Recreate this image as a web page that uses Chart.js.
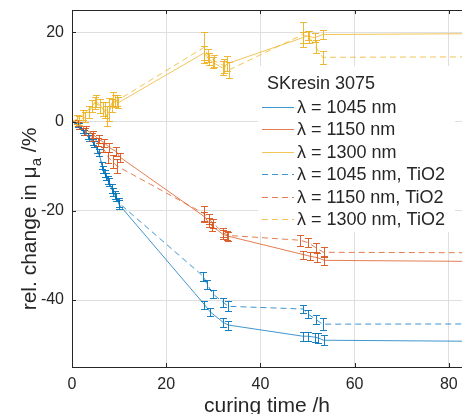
<!DOCTYPE html>
<html>
<head>
<meta charset="utf-8">
<script src="https://cdn.jsdelivr.net/npm/chart.js@4.4.0/dist/chart.umd.min.js"></script>
<style>
html, body { margin: 0; padding: 0; background: #fff; }
#wrap { width: 462px; height: 414px; }
</style>
</head>
<body>
<div id="wrap"><canvas id="chart" width="462" height="414"></canvas></div>
<script>
// Podaci: vreme (h), relativna promena (%), greske (+/-)
let t1045 = [0, 1.5, 2.6, 3.6, 4.7, 5.7, 6.6, 7.2, 7.9, 8.7, 9.4, 10, 28.1, 29.4, 32.1, 33.2, 49, 50, 51.5, 52.3, 53.4, 120];
let v1045 = [0, -1, -2.5, -3.6, -5.1, -7, -10.7, -12.3, -13.6, -15.7, -17, -18.6, -41, -42.7, -45, -45.6, -48.1, -48.1, -48.3, -48.5, -49, -49.5];
let e1045 = [0, 0.6, 0.6, 0.7, 0.7, 0.8, 0.8, 0.8, 0.9, 0.9, 0.9, 1.0, 0.9, 0.9, 1.0, 1.0, 1.0, 1.0, 1.0, 1.1, 1.1, 0];

let t1045T = [0, 1.2, 2.3, 3.3, 4.4, 5.4, 6.4, 7, 7.6, 8.4, 9.2, 9.9, 27.9, 28.7, 30, 32.1, 33.2, 49, 50.2, 51.7, 53.2, 120];
let v1045T = [0, -0.6, -2, -3.2, -4.6, -6.3, -9.8, -11.6, -13, -15, -16.5, -18.2, -34.7, -36.5, -38.7, -40.5, -41.4, -42, -43.2, -44.3, -45.4, -45.3];
let e1045T = [0, 0.6, 0.6, 0.7, 0.7, 0.8, 0.8, 0.8, 0.9, 0.9, 0.9, 1.0, 1.0, 1.1, 0.9, 1.0, 1.1, 0.9, 0.9, 1.0, 1.3, 0];

let t1150 = [0, 1.3, 3, 4.5, 5.7, 6.8, 7.9, 9.4, 10.2, 28.1, 29, 29.8, 32.1, 33.2, 49.1, 50.6, 52.1, 53.6, 120];
let v1150 = [0, -0.3, -1.8, -2.9, -4, -4.7, -5.8, -6.7, -8, -21.3, -22.6, -23.5, -25.3, -25.7, -29.8, -30.2, -30.5, -31.1, -31.6];
let e1150 = [0, 0.7, 0.8, 0.8, 0.9, 0.9, 1.0, 1.0, 1.0, 1.1, 1.0, 1.0, 1.0, 1.0, 0.9, 0.9, 1.0, 1.0, 0];

let t1150T = [0, 1.5, 2.8, 4.2, 5.5, 6.6, 7.7, 8.6, 9.6, 28, 29, 30, 32, 33, 48.5, 50, 51.7, 53.4, 120];
let v1150T = [0, -0.8, -2.2, -3.5, -4.6, -5.9, -8, -9, -10, -20.6, -21.8, -22.8, -24.8, -25.5, -26.6, -27.1, -28.2, -29.3, -29.5];
let e1150T = [0, 0.8, 0.8, 0.9, 0.9, 1.0, 1.2, 1.4, 1.5, 1.6, 1.1, 1.0, 1.0, 1.0, 1.2, 1.0, 1.0, 1.1, 0];

let t1300 = [0, 1, 2.3, 4.3, 5.1, 6.6, 7.4, 8.5, 9.1, 9.8, 28.1, 29, 30, 32, 33, 49, 50, 51.5, 53.2, 120];
let v1300 = [0, 0.5, 1.5, 3.5, 4.6, 2.8, 1.2, 3.6, 4.6, 4.2, 15.4, 14, 13.2, 12, 13, 18.8, 19.2, 18.8, 19.5, 19.9];
let e1300 = [0, 1.0, 1.2, 1.4, 1.3, 1.6, 2.2, 1.5, 1.4, 1.2, 1.6, 1.3, 1.2, 1.5, 1.6, 1.2, 1.0, 1.0, 1.0, 0];

let t1300T = [0, 1.4, 2.8, 3.6, 4.8, 6, 7, 7.9, 8.8, 9.6, 28, 28.9, 30.2, 32.3, 33.4, 49, 50.4, 51.7, 53.2, 120];
let v1300T = [0, 0.3, 1, 2.2, 4.2, 3.5, 2.5, 2.7, 5, 4.7, 16.6, 14.8, 13.6, 12.5, 11.6, 19.5, 18.9, 16.8, 14.4, 14.6];
let e1300T = [0, 1.0, 1.1, 1.3, 1.4, 1.5, 1.8, 2.5, 1.6, 1.3, 3.5, 1.5, 1.4, 1.6, 1.8, 2.7, 1.3, 1.4, 1.5, 0];

let naziviSerija = ["λ = 1045 nm", "λ = 1150 nm", "λ = 1300 nm",
    "λ = 1045 nm, TiO2", "λ = 1150 nm, TiO2", "λ = 1300 nm, TiO2"];
let xTicks = [0, 20, 40, 60, 80];
let yTicks = [-40, -20, 0, 20];

let plava = "0,114,189";
let narandzasta = "217,83,25";
let zuta = "237,177,32";

function tacke(t, v) {
    let niz = [];
    for (let i = 0; i < t.length; i++) {
        niz.push({ x: t[i], y: v[i] });
    }
    return niz;
}

function serija(ime, t, v, e, boja, isprekidana) {
    return {
        label: ime,
        data: tacke(t, v),
        greske: e,
        bojaGreske: "rgba(" + boja + ",0.9)",
        borderColor: "rgba(" + boja + ",0.75)",
        borderWidth: 1,
        borderDash: isprekidana ? [6, 4] : [],
        pointRadius: 0,
        fill: false,
        tension: 0
    };
}

let tekst = "#262626";

// Error barovi
let errorBars = {
    id: "errorBars",
    afterDatasetsDraw(chart) {
        let ctx = chart.ctx;
        let a = chart.chartArea;
        let xs = chart.scales.x, ys = chart.scales.y;
        ctx.save();
        ctx.beginPath();
        ctx.rect(a.left, a.top, a.right - a.left, a.bottom - a.top);
        ctx.clip();
        chart.data.datasets.forEach(function (ds) {
            ctx.strokeStyle = ds.bojaGreske;
            ctx.lineWidth = 1;
            ds.data.forEach(function (p, i) {
                let e = ds.greske[i];
                if (!e) return;
                let px = Math.round(xs.getPixelForValue(p.x)) + 0.5;
                let y1 = Math.round(ys.getPixelForValue(p.y + e)) + 0.5;
                let y2 = Math.round(ys.getPixelForValue(p.y - e)) + 0.5;
                ctx.beginPath();
                ctx.moveTo(px, y1); ctx.lineTo(px, y2);
                ctx.moveTo(px - 3.5, y1); ctx.lineTo(px + 3.5, y1);
                ctx.moveTo(px - 3.5, y2); ctx.lineTo(px + 3.5, y2);
                ctx.stroke();
            });
        });
        ctx.restore();
    }
};

// Okvir, unutrasnji tickovi, naslovi osa i legenda
let ukrasi = {
    id: "ukrasi",
    afterDraw(chart) {
        let ctx = chart.ctx;
        let a = chart.chartArea;
        let xs = chart.scales.x, ys = chart.scales.y;
        ctx.save();

        // Legenda
        ctx.fillStyle = "#fff";
        ctx.fillRect(258, 66, 197, 166);
        ctx.fillStyle = tekst;
        ctx.font = "18px 'Liberation Sans', Arial, sans-serif";
        ctx.textBaseline = "middle";
        ctx.textAlign = "left";
        ctx.fillText("SKresin 3075", 267, 84);
        let ds = chart.data.datasets;
        for (let i = 0; i < ds.length; i++) {
            let y = Math.round(107 + i * 22.4) + 0.5;
            ctx.strokeStyle = ds[i].borderColor;
            ctx.lineWidth = 1;
            ctx.setLineDash(ds[i].borderDash);
            ctx.beginPath();
            ctx.moveTo(262, y);
            ctx.lineTo(294, y);
            ctx.stroke();
            ctx.setLineDash([]);
            ctx.fillStyle = tekst;
            ctx.fillText(ds[i].label, 297, y + 1);
        }

        // Okvir
        ctx.strokeStyle = tekst;
        ctx.lineWidth = 1;
        ctx.beginPath();
        ctx.moveTo(a.left + 0.5, a.bottom + 0.5);
        ctx.lineTo(a.left + 0.5, a.top + 0.5);
        ctx.lineTo(a.right, a.top + 0.5);
        ctx.moveTo(a.left, a.bottom + 0.5);
        ctx.lineTo(a.right, a.bottom + 0.5);
        xTicks.forEach(function (v) {
            let px = Math.round(xs.getPixelForValue(v)) + 0.5;
            ctx.moveTo(px, a.bottom); ctx.lineTo(px, a.bottom - 4);
            ctx.moveTo(px, a.top); ctx.lineTo(px, a.top + 4);
        });
        yTicks.forEach(function (v) {
            let py = Math.round(ys.getPixelForValue(v)) + 0.5;
            ctx.moveTo(a.left, py); ctx.lineTo(a.left + 4, py);
        });
        ctx.stroke();

        // Naslov x ose
        ctx.fillStyle = tekst;
        ctx.font = "21px 'Liberation Sans', Arial, sans-serif";
        ctx.textAlign = "center";
        ctx.textBaseline = "alphabetic";
        ctx.fillText("curing time /h", (a.left + a.right) / 2, 412);

        // Naslov y ose (sa indeksom)
        ctx.translate(36, 219);
        ctx.rotate(-Math.PI / 2);
        let f1 = "21px 'Liberation Sans', Arial, sans-serif";
        let f2 = "15px 'Liberation Sans', Arial, sans-serif";
        let d1 = "rel. change in μ", d2 = "a", d3 = " /%";
        ctx.font = f1;
        let w1 = ctx.measureText(d1).width, w3 = ctx.measureText(d3).width;
        ctx.font = f2;
        let w2 = ctx.measureText(d2).width;
        let x0 = -(w1 + w2 + w3) / 2;
        ctx.textAlign = "left";
        ctx.font = f1;
        ctx.fillText(d1, x0, 0);
        ctx.font = f2;
        ctx.fillText(d2, x0 + w1, 5);
        ctx.font = f1;
        ctx.fillText(d3, x0 + w1 + w2, 0);

        ctx.restore();
    }
};

let ctx = document.getElementById("chart").getContext("2d");

let grafik = new Chart(ctx, {
    type: "line",
    data: {
        datasets: [
            serija(naziviSerija[0], t1045, v1045, e1045, plava, false),
            serija(naziviSerija[1], t1150, v1150, e1150, narandzasta, false),
            serija(naziviSerija[2], t1300, v1300, e1300, zuta, false),
            serija(naziviSerija[3], t1045T, v1045T, e1045T, plava, true),
            serija(naziviSerija[4], t1150T, v1150T, e1150T, narandzasta, true),
            serija(naziviSerija[5], t1300T, v1300T, e1300T, zuta, true)
        ]
    },
    options: {
        responsive: false,
        animation: false,
        devicePixelRatio: 1,
        layout: { padding: { top: 10, right: 0, left: 0, bottom: 0 } },
        plugins: {
            legend: { display: false },
            tooltip: { enabled: false }
        },
        scales: {
            x: {
                type: "linear",
                min: 0,
                max: 82.8,
                afterBuildTicks(axis) { axis.ticks = xTicks.map(v => ({ value: v })); },
                afterFit(axis) {
                    axis.height = 47;
                    axis.paddingLeft = 0;
                    axis.paddingRight = 0;
                },
                grid: { color: "#dfdfdf", drawTicks: false },
                border: { display: false },
                ticks: {
                    padding: 8,
                    color: tekst,
                    maxRotation: 0,
                    font: { family: "'Liberation Sans', Arial, sans-serif", size: 16 }
                }
            },
            y: {
                min: -55,
                max: 25,
                afterBuildTicks(axis) { axis.ticks = yTicks.map(v => ({ value: v })); },
                afterFit(axis) {
                    axis.width = 72;
                    axis.paddingTop = 0;
                    axis.paddingBottom = 0;
                },
                grid: { color: "#dfdfdf", drawTicks: false },
                border: { display: false },
                ticks: {
                    padding: 8,
                    color: tekst,
                    font: { family: "'Liberation Sans', Arial, sans-serif", size: 16 }
                }
            }
        }
    },
    plugins: [errorBars, ukrasi]
});
</script>
</body>
</html>
